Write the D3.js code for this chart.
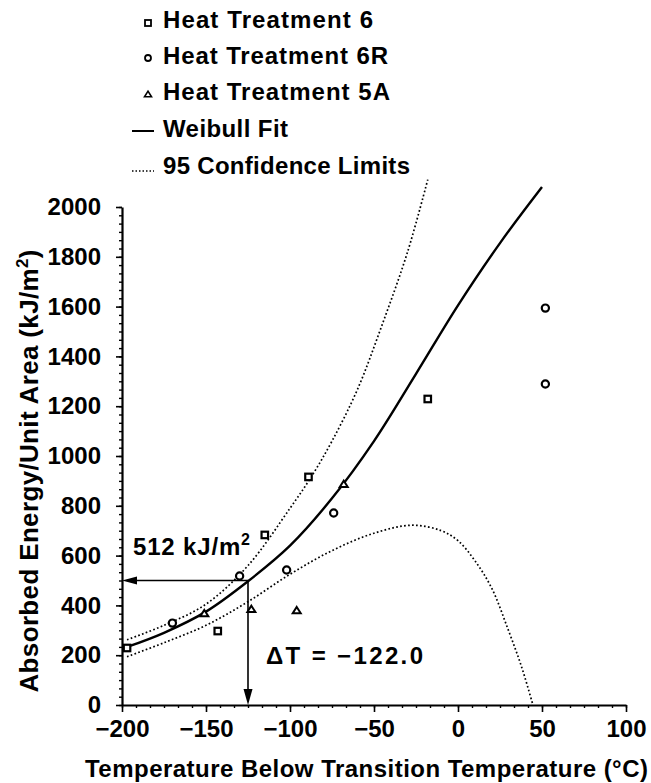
<!DOCTYPE html>
<html lang="en">
<head>
<meta charset="UTF-8">
<script src="https://d3js.org/d3.v7.min.js"></script>
<title>Absorbed energy vs temperature below transition</title>
<style>
body { margin: 0; background: #fff; }
svg { display: block; font-family: "Liberation Sans", Arial, sans-serif; font-weight: bold; }
.axis path, .axis line { stroke: #000; }
.axis text { font-family: "Liberation Sans", Arial, sans-serif; font-size: 24px; font-weight: bold; fill: #000; }
</style>
</head>
<body>
<svg width="651" height="783"></svg>
<script>
// measured points: temperature below transition (C), absorbed energy (kJ/m2)
var ht6Temp = [-197, -143, -115, -89, -18];
var ht6Energy = [229, 297, 683, 916, 1229];
var ht6RTemp = [-170, -130, -102, -74, 52, 52];
var ht6REnergy = [329, 518, 542, 771, 1594, 1289];
var ht5ATemp = [-151, -123, -96, -68];
var ht5AEnergy = [369, 386, 381, 888];

// weibull fit + 95% limits
var fitTemp = [-197, -175, -150, -125, -100, -75, -50, -25, 0, 25, 50];
var fitEnergy = [233, 290, 375, 497, 640, 830, 1060, 1330, 1605, 1855, 2080];
var upperTemp = [-197, -175, -150, -125, -100, -87, -75, -60, -45, -30, -18];
var upperEnergy = [262, 320, 405, 560, 790, 920, 1060, 1265, 1530, 1820, 2110];
var lowerTemp = [-197, -175, -150, -125, -100, -75, -50, -27, -10, 0, 10, 20, 30, 38, 44.6];
var lowerEnergy = [194, 250, 320, 415, 525, 620, 690, 722, 700, 660, 580, 470, 300, 150, 0];

var xTicks = [-200, -150, -100, -50, 0, 50, 100];
var yTicks = [0, 200, 400, 600, 800, 1000, 1200, 1400, 1600, 1800, 2000];

// reading at the fit: arrow point and its labels
var readTemp = -125, readEnergy = 500;
var energyLabel = "512 kJ/m";
var deltaLabel = "\u0394T = \u2212122.0";

var legendLabels = ["Heat Treatment 6", "Heat Treatment 6R", "Heat Treatment 5A", "Weibull Fit", "95 Confidence Limits"];

var svg = d3.select("svg");

var x = d3.scaleLinear().domain([-200, 100]).range([122, 626]);
var y = d3.scaleLinear().domain([0, 2000]).range([705, 207]);

// minor ticks
svg.append("g").attr("class", "axis")
  .attr("transform", "translate(0,705)")
  .call(d3.axisBottom(x).tickValues(d3.range(-200, 100.01, 50 / 6)).tickSize(3).tickSizeOuter(0).tickFormat(""))
  .call(function(g) { g.select(".domain").remove(); })
  .selectAll("line").attr("stroke-width", 1.4);
svg.append("g").attr("class", "axis")
  .attr("transform", "translate(122,0)")
  .call(d3.axisLeft(y).tickValues(d3.range(0, 2000.01, 200 / 6)).tickSize(3).tickSizeOuter(0).tickFormat(""))
  .call(function(g) { g.select(".domain").remove(); })
  .selectAll("line").attr("stroke-width", 1.4);

// major axes
var xAxis = svg.append("g").attr("class", "axis")
  .attr("transform", "translate(0,705)")
  .call(d3.axisBottom(x).tickValues(xTicks).tickSize(7).tickSizeOuter(0).tickPadding(8));
xAxis.select(".domain").attr("stroke-width", 2.2);
xAxis.selectAll("line").attr("stroke-width", 1.6);

var yAxis = svg.append("g").attr("class", "axis")
  .attr("transform", "translate(122,0)")
  .call(d3.axisLeft(y).tickValues(yTicks).tickSize(6).tickSizeOuter(0).tickPadding(15).tickFormat(d3.format("d")));
yAxis.select(".domain").attr("stroke-width", 2.2);
yAxis.selectAll("line").attr("stroke-width", 1.6);

// axis titles
svg.append("text")
  .attr("x", 366.5).attr("y", 777)
  .attr("text-anchor", "middle")
  .attr("font-size", 24)
  .attr("textLength", 563)
  .text("Temperature Below Transition Temperature (\u00B0C)");

var yTitle = svg.append("text")
  .attr("transform", "translate(38,471) rotate(-90)")
  .attr("text-anchor", "middle")
  .attr("font-size", 26)
  .attr("textLength", 443);
yTitle.append("tspan").text("Absorbed Energy/Unit Area (kJ/m");
yTitle.append("tspan").attr("dy", -10).attr("font-size", 17).text("2");
yTitle.append("tspan").attr("dy", 10).text(")");

// curves
function zip(a, b) { return a.map(function(v, i) { return [v, b[i]]; }); }
var line = d3.line()
  .x(function(d) { return x(d[0]); })
  .y(function(d) { return y(d[1]); })
  .curve(d3.curveCatmullRom.alpha(0.5));

svg.append("path")
  .datum(zip(fitTemp, fitEnergy))
  .attr("fill", "none").attr("stroke", "#000").attr("stroke-width", 2.4)
  .attr("d", line);

[zip(upperTemp, upperEnergy), zip(lowerTemp, lowerEnergy)].forEach(function(pts) {
  svg.append("path")
    .datum(pts)
    .attr("fill", "none").attr("stroke", "#000")
    .attr("stroke-width", 1.7).attr("stroke-dasharray", "1.7,2.3")
    .attr("d", line);
});

// reading arrows
var ax = x(readTemp), ay = y(readEnergy);
svg.append("line")
  .attr("x1", ax).attr("y1", ay).attr("x2", x(-200) + 12).attr("y2", ay)
  .attr("stroke", "#000").attr("stroke-width", 1.6);
svg.append("path")
  .attr("d", "M" + x(-200) + "," + ay + "L" + (x(-200) + 15) + "," + (ay - 4) + "L" + (x(-200) + 15) + "," + (ay + 4) + "Z")
  .attr("fill", "#000");
svg.append("line")
  .attr("x1", ax).attr("y1", ay).attr("x2", ax).attr("y2", y(0) - 12)
  .attr("stroke", "#000").attr("stroke-width", 1.6);
svg.append("path")
  .attr("d", "M" + ax + "," + y(0) + "L" + (ax - 4.5) + "," + (y(0) - 16) + "L" + (ax + 4.5) + "," + (y(0) - 16) + "Z")
  .attr("fill", "#000");

var eText = svg.append("text")
  .attr("x", x(-200) + 11).attr("y", ay - 26)
  .attr("font-size", 24).attr("textLength", 117);
eText.append("tspan").text(energyLabel);
eText.append("tspan").attr("dy", -10).attr("font-size", 16).text("2");

svg.append("text")
  .attr("x", ax + 18).attr("y", y(0) - 41)
  .attr("font-size", 24).attr("textLength", 157)
  .text(deltaLabel);

// data markers
function squares(tx, ey, s) {
  svg.append("g").selectAll("rect")
    .data(zip(tx, ey)).enter().append("rect")
    .attr("x", function(d) { return x(d[0]) - s / 2; })
    .attr("y", function(d) { return y(d[1]) - s / 2; })
    .attr("width", s).attr("height", s)
    .attr("fill", "#fff").attr("stroke", "#000").attr("stroke-width", 2.2);
}
function circles(tx, ey, r) {
  svg.append("g").selectAll("circle")
    .data(zip(tx, ey)).enter().append("circle")
    .attr("cx", function(d) { return x(d[0]); })
    .attr("cy", function(d) { return y(d[1]); })
    .attr("r", r)
    .attr("fill", "#fff").attr("stroke", "#000").attr("stroke-width", 2.2);
}
function triangle(cx, cy, s) {
  var h = s * 0.8;
  return "M" + cx + "," + (cy - h / 2) + "L" + (cx + s / 2) + "," + (cy + h / 2) + "L" + (cx - s / 2) + "," + (cy + h / 2) + "Z";
}
function triangles(tx, ey, s) {
  svg.append("g").selectAll("path")
    .data(zip(tx, ey)).enter().append("path")
    .attr("d", function(d) { return triangle(x(d[0]), y(d[1]), s); })
    .attr("fill", "#fff").attr("stroke", "#000").attr("stroke-width", 2);
}
squares(ht6Temp, ht6Energy, 6.5);
circles(ht6RTemp, ht6REnergy, 3.6);
triangles(ht5ATemp, ht5AEnergy, 8);

// legend
var legendWidths = [210, 225, 227, 125, 247];
var legendBase = [28, 64, 100, 137, 174];
var lg = svg.append("g");
legendLabels.forEach(function(lab, i) {
  lg.append("text")
    .attr("x", 163).attr("y", legendBase[i])
    .attr("font-size", 24)
    .attr("textLength", legendWidths[i])
    .text(lab);
});
lg.append("rect").attr("x", 145).attr("y", 20).attr("width", 6).attr("height", 6)
  .attr("fill", "#fff").attr("stroke", "#000").attr("stroke-width", 1.8);
lg.append("circle").attr("cx", 148).attr("cy", 58).attr("r", 3)
  .attr("fill", "#fff").attr("stroke", "#000").attr("stroke-width", 1.8);
lg.append("path").attr("d", triangle(148, 94, 7))
  .attr("fill", "#fff").attr("stroke", "#000").attr("stroke-width", 1.6);
lg.append("line").attr("x1", 132).attr("x2", 154).attr("y1", 131).attr("y2", 131)
  .attr("stroke", "#000").attr("stroke-width", 2);
lg.append("line").attr("x1", 132).attr("x2", 154).attr("y1", 171).attr("y2", 171)
  .attr("stroke", "#000").attr("stroke-width", 1.5).attr("stroke-dasharray", "1.5,2");
</script>
</body>
</html>
